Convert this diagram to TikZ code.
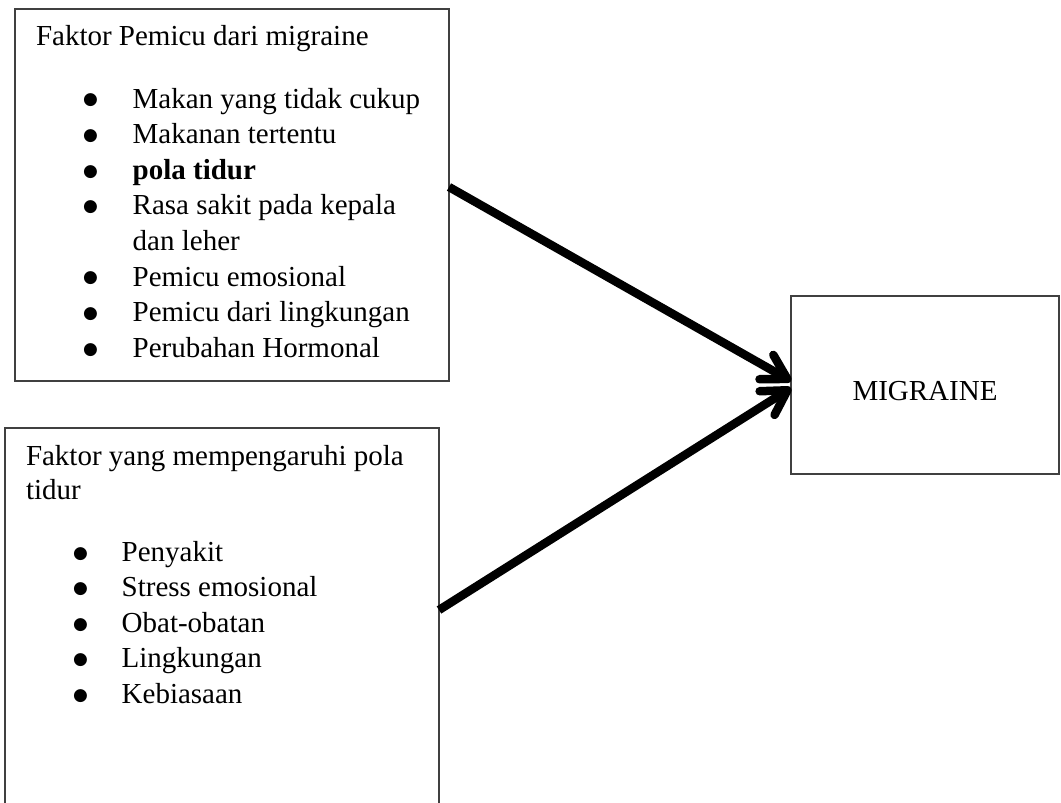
\documentclass[tikz,border=0pt]{standalone}
\usepackage{fontspec}
\setmainfont{Liberation Serif}
\newfontfamily\bulfont{DejaVu Sans}
\usetikzlibrary{arrows.meta}
\begin{document}
\begin{tikzpicture}[x=1pt,y=-1pt,
  every node/.style={inner sep=0pt, outer sep=0pt, font=\fontsize{29}{35.6}\selectfont},
  frame/.style={draw=black!75, line width=1.3pt, rectangle, anchor=north west},
  txt/.style={anchor=base west},
  bul/.style={anchor=center, font=\bulfont\fontsize{17}{17}\selectfont},
  conn/.style={line width=8.5pt, -{Straight Barb[length=24pt,width=28pt,round]}}]
\useasboundingbox (0,0) rectangle (1061,803);
\clip (0,0) rectangle (1061,803);
% boxes
\node[frame, minimum width=434pt, minimum height=372pt] (box1) at (15,9) {};
\node[frame, minimum width=434pt, minimum height=400pt] (box2) at (5,428) {};
\node[frame, minimum width=268pt, minimum height=178pt] (mig) at (791,296) {};
\node[anchor=base] (migtext) at (925,400.7) {MIGRAINE};
% box 1 text
\node[txt] (t1) at (36,45.6) {Faktor Pemicu dari migraine};
\foreach \y/\t [count=\i] in {108/Makan yang tidak cukup, 143.6/Makanan tertentu, 179.2/\textbf{pola tidur}, 214.8/Rasa sakit pada kepala, 286/Pemicu emosional, 321.6/Pemicu dari lingkungan, 357.2/Perubahan Hormonal}
  {\node[bul] (ba\i) at (90.5,\y-7.5) {●};
   \node[txt] (la\i) at (132.7,\y) {\t};}
\node[txt] (lacont) at (132.7,250.4) {dan leher};
% box 2 text
\node[txt] (t2a) at (26,465) {Faktor yang mempengaruhi pola};
\node[txt] (t2b) at (26,499.5) {tidur};
\foreach \y/\t [count=\i] in {561.5/Penyakit, 596.9/Stress emosional, 632.3/Obat-obatan, 667.7/Lingkungan, 703.1/Kebiasaan}
  {\node[bul] (bb\i) at (80.5,\y-7.5) {●};
   \node[txt] (lb\i) at (121.7,\y) {\t};}
% connectors
\draw[conn] ([yshift=8pt]box1.east) -- ([yshift=4pt]mig.west);
\draw[conn] ([yshift=-182pt]box2.north east) -- ([yshift=-3pt]mig.west);
\end{tikzpicture}
\end{document}
